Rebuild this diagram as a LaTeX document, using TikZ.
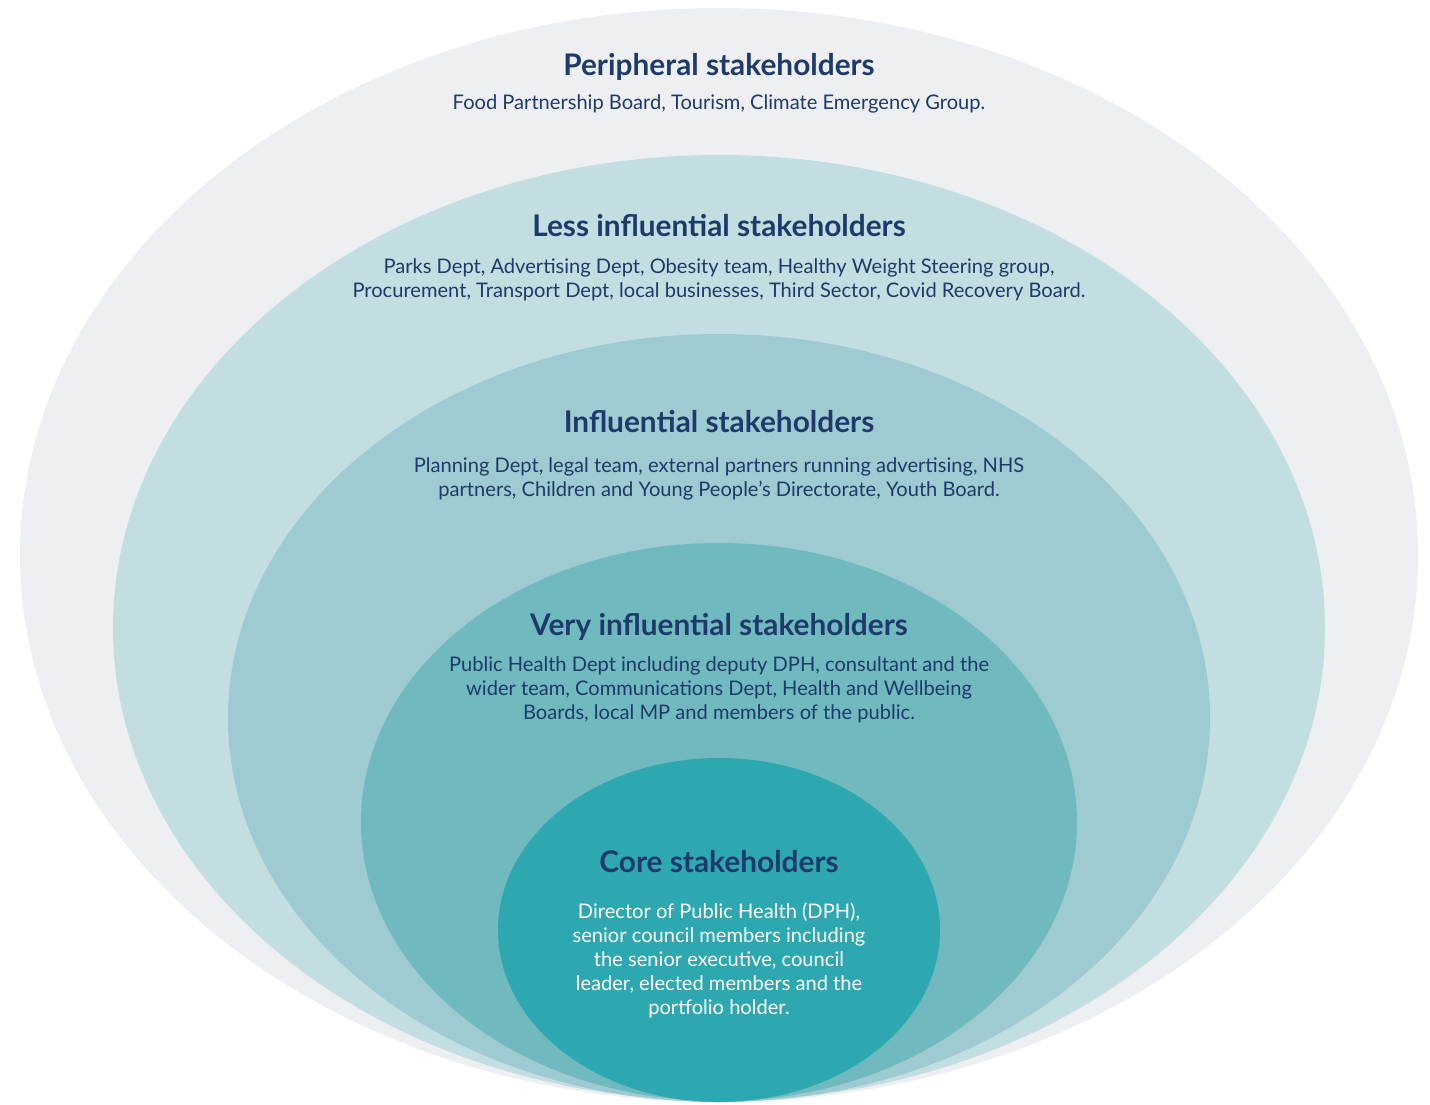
\documentclass[tikz,border=0pt]{standalone}
\usepackage{fontspec}
\setmainfont{Lato}
\usetikzlibrary{shapes.geometric}
\usetikzlibrary{positioning}
\definecolor{navy}{HTML}{1E3A6A}
\definecolor{ringperipheral}{HTML}{EEEFF2}
\definecolor{ringless}{HTML}{C3DEE1}
\definecolor{ringinfluential}{HTML}{9DCBD1}
\definecolor{ringvery}{HTML}{6FB9BF}
\definecolor{ringcore}{HTML}{2EA8B0}
\tikzset {
  ring/.style = {
    ellipse,
    draw = none,
    inner sep = 0
  },
  % heading of each ring
  head/.style = {
    font = \fontsize{14.9}{17}\selectfont\bfseries,
    text = navy
  },
  % the stakeholders listed in a ring
  members/.style = {
    font = \fontsize{10.05}{12}\selectfont,
    text = navy,
    align = center
  }
}

\begin{document}
\begin{tikzpicture}[x=0.5pt, y=-0.5pt]
    \useasboundingbox (0,0) rectangle (1430,1104);
    \node[ring, fill=ringperipheral, minimum width=699pt, minimum height=547pt] (peripheral) at (719,555) {};
    \node[ring, fill=ringless, minimum width=606pt, minimum height=473pt] (less) at (719,628) {};
    \node[ring, fill=ringinfluential, minimum width=491pt, minimum height=384pt] (influential) at (719,718) {};
    \node[ring, fill=ringvery, minimum width=358pt, minimum height=279pt] (very) at (719,822) {};
    \node[ring, fill=ringcore, minimum width=221pt, minimum height=172pt] (core) at (719,930) {};

    \node[head] (peripheral-head) at (719,67) {Peripheral stakeholders};
    \node[members] (peripheral-list) at (719,104) {Food Partnership Board, Tourism, Climate Emergency Group.};

    \node[head] (less-head) at (719,226) {Less influential stakeholders};
    \node[members] (less-list) at (719,280) {Parks Dept, Advertising Dept, Obesity team, Healthy Weight Steering group,\\
      Procurement, Transport Dept, local businesses, Third Sector, Covid Recovery Board.};

    \node[head] (influential-head) at (719,422) {Influential stakeholders};
    \node[members] (influential-list) at (719,479) {Planning Dept, legal team, external partners running advertising, NHS\\
      partners, Children and Young People's Directorate, Youth Board.};

    \node[head] (very-head) at (719,627) {Very influential stakeholders};
    \node[members] (very-list) at (719,690) {Public Health Dept including deputy DPH, consultant and the\\
      wider team, Communications Dept, Health and Wellbeing\\
      Boards, local MP and members of the public.};

    \node[head] (core-head) at (719,862) {Core stakeholders};
    \node[members, text=white] (core-list) at (719,960) {Director of Public Health (DPH),\\
      senior council members including\\
      the senior executive, council\\
      leader, elected members and the\\
      portfolio holder.};
  \end{tikzpicture}
\end{document}
